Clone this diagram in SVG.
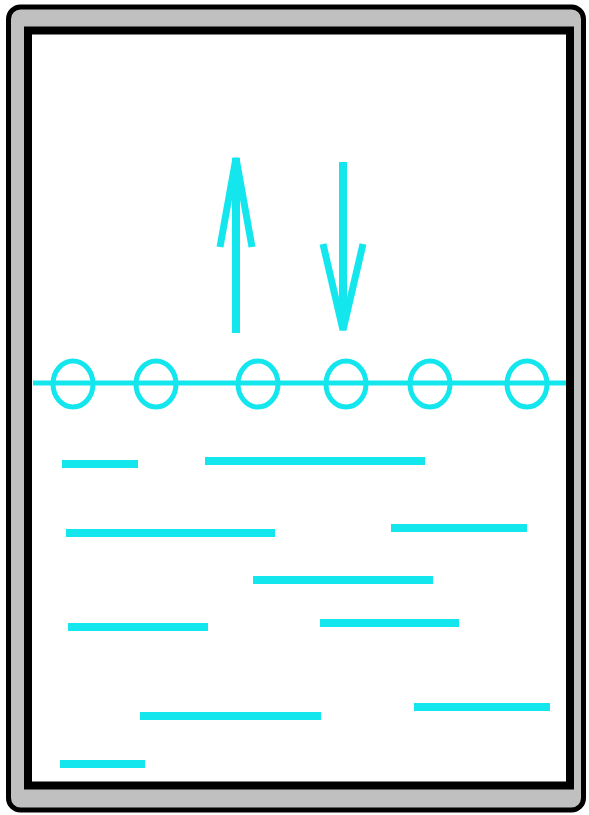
<svg xmlns="http://www.w3.org/2000/svg" width="589" height="815" viewBox="0 0 589 815">
<style>
.c{stroke:#14e6ee;fill:none;stroke-width:7;}
.b{stroke:#14e6ee;fill:none;stroke-width:8;stroke-linecap:butt;}
.o{fill:none;stroke:#14e6ee;stroke-width:5;}
</style>
<rect width="589" height="815" fill="#ffffff"/>
<g id="frame">
<rect x="8.5" y="7" width="575" height="803" rx="12" fill="#c0c0c0" stroke="#000" stroke-width="5"/>
<rect x="28" y="30.5" width="542" height="755" fill="#ffffff" stroke="#000" stroke-width="8"/>
</g>
<g id="arrows">
<line class="b" x1="236" y1="158" x2="236" y2="333"/>
<polyline class="c" points="220,247 236,158 252,247"/>
<line class="b" x1="343" y1="162" x2="343" y2="326"/>
<polyline class="c" points="323,244 343,330 363,244"/>
</g>
<g id="membrane">
<line class="o" x1="33" y1="383" x2="566" y2="383"/>
<ellipse class="o" cx="73" cy="384" rx="20" ry="23"/>
<ellipse class="o" cx="156" cy="384" rx="20" ry="23"/>
<ellipse class="o" cx="258" cy="384" rx="20" ry="23"/>
<ellipse class="o" cx="346" cy="384" rx="20" ry="23"/>
<ellipse class="o" cx="430" cy="384" rx="20" ry="23"/>
<ellipse class="o" cx="527" cy="384" rx="20" ry="23"/>
</g>
<g id="strands">
<line class="b" x1="62" y1="464" x2="138" y2="464"/>
<line class="b" x1="205" y1="461" x2="425" y2="461"/>
<line class="b" x1="66" y1="533" x2="275" y2="533"/>
<line class="b" x1="391" y1="528" x2="527" y2="528"/>
<line class="b" x1="253" y1="580" x2="433" y2="580"/>
<line class="b" x1="68" y1="627" x2="208" y2="627"/>
<line class="b" x1="320" y1="623" x2="459" y2="623"/>
<line class="b" x1="140" y1="716" x2="321" y2="716"/>
<line class="b" x1="414" y1="707" x2="550" y2="707"/>
<line class="b" x1="60" y1="764" x2="145" y2="764"/>
</g>
</svg>
